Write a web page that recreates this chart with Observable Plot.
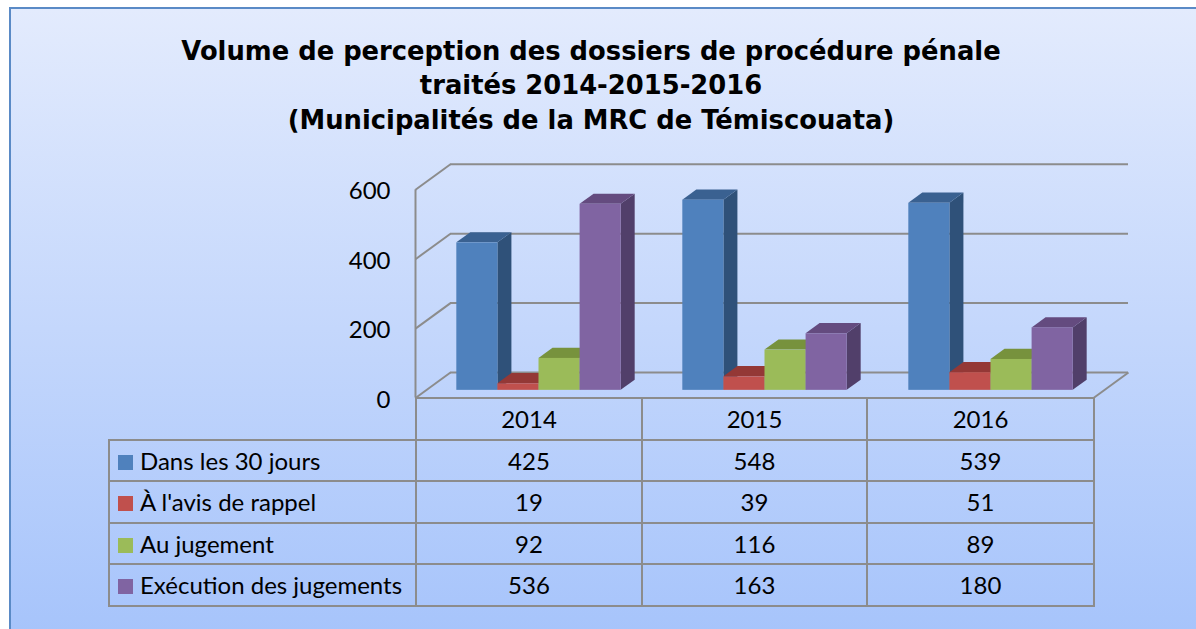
<!DOCTYPE html>
<html>
<head>
<meta charset="utf-8">
<script src="https://cdn.jsdelivr.net/npm/d3@7"></script>
<script src="https://cdn.jsdelivr.net/npm/@observablehq/plot@0.6"></script>
<style>
  html, body { margin: 0; padding: 0; }
  body { width: 1196px; height: 629px; overflow: hidden; position: relative; background: #ffffff; }
  #frame { position: absolute; left: 9px; top: 7px; width: 1200px; height: 640px;
           border-left: 2px solid #5a8ac6; border-top: 2px solid #5a8ac6;
           background: linear-gradient(to bottom, #e3ebfd, #a5c3fb); }
  #title { position: absolute; left: 0; top: 33.7px; width: 1182px; text-align: center;
           font-family: "DejaVu Sans", sans-serif; font-weight: bold;
           font-size: 25.8px; line-height: 34.7px; color: #000; }
  #chart { position: absolute; left: 0; top: 140px; }
  #tbl { position: absolute; left: 108px; top: 397px; border-collapse: collapse; table-layout: fixed;
         width: 985px; font-family: Lato, sans-serif; font-size: 24px; color: #000; }
  #tbl td, #tbl th { border: 2px solid #8c8c8c; padding: 0; text-align: center; font-weight: normal; vertical-align: middle; }
  #tbl tr { height: 41.5px; }
  #tbl th.blank { border-top: none; border-left: none; }
  #tbl td.lg { text-align: left; padding-left: 8px; white-space: nowrap; }
  .sw { display: inline-block; width: 15px; height: 15px; margin-right: 7px; vertical-align: 0px; }
</style>
</head>
<body>
<div id="frame"></div>
<div id="title">Volume de perception des dossiers de procédure pénale<br>traités 2014-2015-2016<br>(Municipalités de la MRC de Témiscouata)</div>
<div id="chart"></div>
<script>
// ---- data ----
const years = ["2014", "2015", "2016"];
const seriesNames = ["Dans les 30 jours", "À l'avis de rappel", "Au jugement", "Exécution des jugements"];
const dans30 = [425, 548, 539];
const avisRappel = [19, 39, 51];
const auJugement = [92, 116, 89];
const execution = [536, 163, 180];
const yTicks = [0, 200, 400, 600];

// ---- styles ----
const frontColors = ["#4f81bd", "#c0504d", "#9bbb59", "#8064a2"];
const topColors   = ["#3a6191", "#943836", "#77923d", "#644b7f"];
const sideColors  = ["#2f5179", "#7e2f2d", "#657d33", "#513f6a"];
const gridColor = "#8c8c8c";

const seriesValues = [dans30, avisRappel, auJugement, execution];
const rows = [];
years.forEach((yr, i) => seriesNames.forEach((s, j) => rows.push({ i, j, year: yr, series: s, value: seriesValues[j][i] })));

// 3D projection parameters (in data units of the front plane)
const GAP = 1.5, BW = 1 / (seriesNames.length + GAP), PAD = GAP * BW / 2;
const DX = 35 / 226;   // floor depth, x units
const DY = 73.5;       // floor depth, y units
const Z0 = 0.3, Z1 = 0.7;
const xl = d => d.i + PAD + d.j * BW;

const sidePts = [], topPts = [];
rows.forEach((d, k) => {
  for (const z of [Z0, Z1]) {
    sidePts.push({ key: k, j: d.j, x: xl(d) + BW + z * DX, y1: z * DY, y2: d.value + z * DY });
    topPts.push({ key: k, j: d.j, y: d.value + z * DY, x1: xl(d) + z * DX, x2: xl(d) + BW + z * DX });
  }
});

const chart = Plot.plot({
  width: 1196, height: 270,
  marginLeft: 415, marginRight: 103, marginTop: 49.3, marginBottom: 12.5,
  x: { domain: [0, years.length], axis: null },
  y: { domain: [0, 600], axis: null },
  color: { type: "identity" },
  style: { background: "transparent", overflow: "visible", fontFamily: "Lato, sans-serif", fontSize: "24px", color: "#000" },
  marks: [
    // back wall gridlines
    Plot.ruleY(yTicks, { y: t => t + DY, x1: () => DX, x2: () => years.length + DX, stroke: gridColor, strokeWidth: 2 }),
    // side wall diagonals
    Plot.link(yTicks, { x1: () => 0, y1: t => t, x2: () => DX, y2: t => t + DY, stroke: gridColor, strokeWidth: 2 }),
    // front-left edge
    Plot.ruleX([0], { y1: () => 0, y2: () => 600, stroke: gridColor, strokeWidth: 2 }),
    // floor edges
    Plot.ruleY([0], { x1: () => 0, x2: () => years.length, stroke: gridColor, strokeWidth: 2 }),
    Plot.link([0], { x1: () => years.length, y1: () => 0, x2: () => years.length + DX, y2: () => DY, stroke: gridColor, strokeWidth: 2 }),
    // bars: sides, tops, fronts
    Plot.areaY(sidePts, { x: "x", y1: "y1", y2: "y2", z: "key", fill: d => sideColors[d.j] }),
    Plot.areaX(topPts, { y: "y", x1: "x1", x2: "x2", z: "key", fill: d => topColors[d.j] }),
    Plot.rect(rows, { x1: d => xl(d) + Z0 * DX, x2: d => xl(d) + BW + Z0 * DX, y1: () => Z0 * DY, y2: d => d.value + Z0 * DY,
                      fill: d => frontColors[d.j] }),
    Plot.axisY(yTicks, { anchor: "left", tickSize: 0, tickPadding: 25, fontSize: 24, fill: "#000", dy: 2 })
  ]
});
document.getElementById("chart").appendChild(chart);

// data table
const tbl = document.createElement("table");
tbl.id = "tbl";
let html = '<colgroup><col style="width:307px"><col style="width:226px"><col style="width:225px"><col style="width:227px"></colgroup>';
html += '<tr><th class="blank"></th>' + years.map(y => `<th>${y}</th>`).join("") + '</tr>';
seriesNames.forEach((s, j) => {
  html += `<tr><td class="lg"><span class="sw" style="background:${frontColors[j]}"></span>${s}</td>` +
          seriesValues[j].map(v => `<td>${v}</td>`).join("") + '</tr>';
});
tbl.innerHTML = html;
document.body.appendChild(tbl);
</script>
</body>
</html>
